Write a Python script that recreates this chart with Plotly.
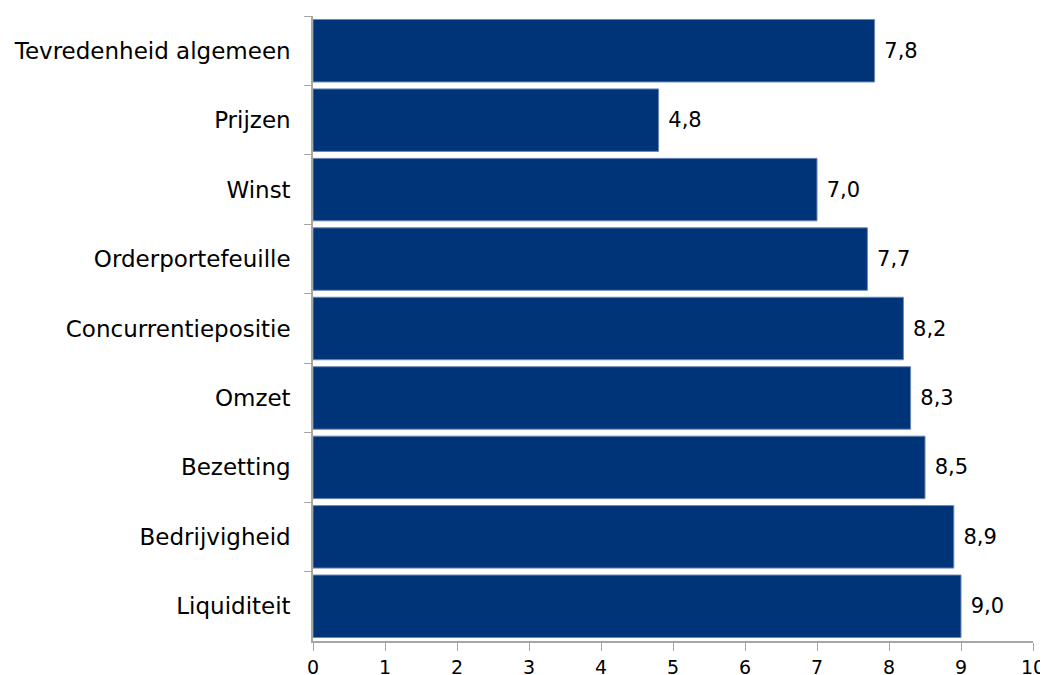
import plotly.graph_objects as go

categories = [
    "Tevredenheid algemeen",
    "Prijzen",
    "Winst",
    "Orderportefeuille",
    "Concurrentiepositie",
    "Omzet",
    "Bezetting",
    "Bedrijvigheid",
    "Liquiditeit",
]
scores = [7.8, 4.8, 7.0, 7.7, 8.2, 8.3, 8.5, 8.9, 9.0]

fig = go.Figure()

fig.add_trace(go.Bar(
    x=scores,
    y=categories,
    orientation="h",
    marker=dict(color="#003478", line=dict(color="#6d88b3", width=1)),
    texttemplate=" %{x:.1f}",
    textposition="outside",
    textfont=dict(size=21, color="#000000"),
    cliponaxis=False,
    hoverinfo="skip",
))

# page body has an 8px margin, so the figure is a bit smaller than the window
fig.update_layout(
    width=1040,
    height=667,
    margin=dict(l=305, r=15, t=8, b=34),
    plot_bgcolor="#FFFFFF",
    paper_bgcolor="#FFFFFF",
    font=dict(family="DejaVu Sans, Verdana, sans-serif", size=23, color="#000000"),
    separators=",.",
    bargap=0.1,
    showlegend=False,
    xaxis=dict(
        range=[0, 10],
        dtick=1,
        showgrid=False,
        zeroline=False,
        showline=True,
        linecolor="#a6a6a6",
        linewidth=1.5,
        ticks="outside",
        ticklen=8,
        tickcolor="#a6a6a6",
        tickfont=dict(size=19),
        tickformat="d",
        automargin=False,
    ),
    yaxis=dict(
        autorange="reversed",
        showgrid=False,
        showline=True,
        linecolor="#a6a6a6",
        linewidth=1.5,
        ticks="outside",
        ticklen=7,
        tickcolor="#a6a6a6",
        tickson="boundaries",
        ticklabelstandoff=16,
        tickfont=dict(size=23),
        automargin=False,
    ),
)

fig.write_html("out.html")
